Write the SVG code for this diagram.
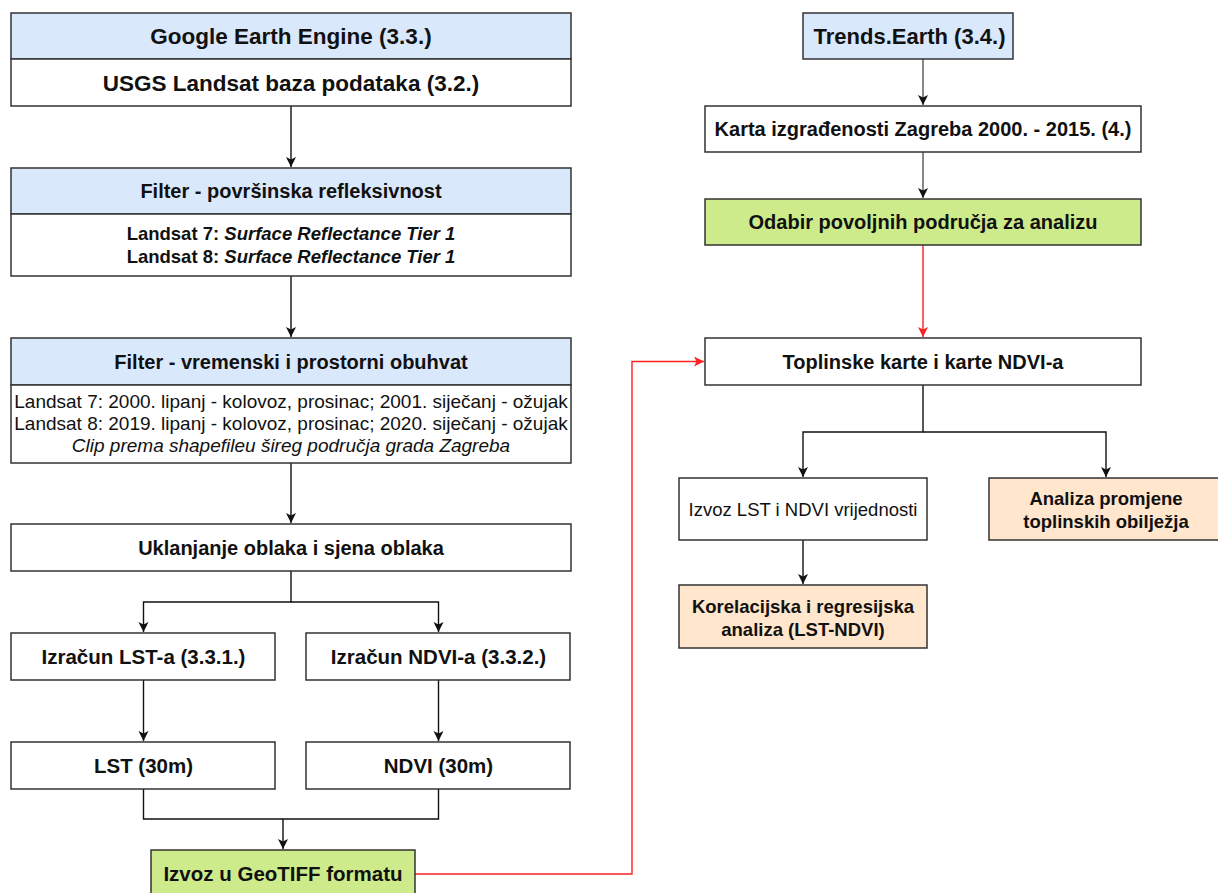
<svg xmlns="http://www.w3.org/2000/svg" width="1218" height="893" viewBox="0 0 1218 893">
<style>
text{font-family:"Liberation Sans",Arial,sans-serif;fill:#111;text-anchor:middle}
.b{font-weight:bold}
.box{stroke:#333;stroke-width:1.5}
.w{fill:#fff}
.bl{fill:#dae8fc}
.gr{fill:#cdeb8b}
.or{fill:#ffe6cc}
.c{fill:none;stroke:#111;stroke-width:1.4}
.g{fill:none;stroke:#555;stroke-width:1.4}
.r{fill:none;stroke:#ff2020;stroke-width:1.4}
</style>
<defs>
<marker id="ah" markerUnits="userSpaceOnUse" markerWidth="11" markerHeight="11" refX="10" refY="5" orient="auto"><path d="M0,0 L10,5 L0,10 L2.5,5 z" fill="#111"/></marker>
<marker id="ahr" markerUnits="userSpaceOnUse" markerWidth="11" markerHeight="11" refX="10" refY="5" orient="auto"><path d="M0,0 L10,5 L0,10 L2.5,5 z" fill="#ff2020"/></marker>
</defs>
<rect width="1218" height="893" fill="#fff"/>
<g id="connectors">
<path class="c" d="M291,106 V167" marker-end="url(#ah)"/>
<path class="c" d="M291,276 V337" marker-end="url(#ah)"/>
<path class="c" d="M291,463 V523" marker-end="url(#ah)"/>
<path class="c" d="M291,571 V602 H143.5 V632" marker-end="url(#ah)"/>
<path class="c" d="M291,602 H438.5 V632" marker-end="url(#ah)"/>
<path class="c" d="M143.5,680 V741" marker-end="url(#ah)"/>
<path class="c" d="M438.5,680 V741" marker-end="url(#ah)"/>
<path class="c" d="M143.5,789 V819 H438.5 V789"/>
<path class="c" d="M283,819 V849" marker-end="url(#ah)"/>
<path class="r" d="M415,874 H632 V361.5 H704" marker-end="url(#ahr)"/>
<path class="g" d="M923,59 V105" marker-end="url(#ah)"/>
<path class="g" d="M923,152 V198" marker-end="url(#ah)"/>
<path class="r" d="M923,245 V337" marker-end="url(#ahr)"/>
<path class="c" d="M923,385 V432 H803 V477" marker-end="url(#ah)"/>
<path class="c" d="M923,432 H1106 V477" marker-end="url(#ah)"/>
<path class="c" d="M803,540 V584" marker-end="url(#ah)"/>
</g>
<g id="gee">
<rect class="box bl" x="11" y="13" width="560" height="46"/>
<text class="b" x="291" y="44" font-size="22.5">Google Earth Engine (3.3.)</text>
</g>
<g id="usgs">
<rect class="box w" x="11" y="59" width="560" height="47"/>
<text class="b" x="291" y="90.5" font-size="22.5">USGS Landsat baza podataka (3.2.)</text>
</g>
<g id="filter1">
<rect class="box bl" x="11" y="168" width="560" height="46"/>
<text class="b" x="291" y="198" font-size="20">Filter - površinska refleksivnost</text>
<rect class="box w" x="11" y="214" width="560" height="62"/>
<text class="b" x="291" y="240" font-size="18.5">Landsat 7: <tspan font-style="italic">Surface Reflectance Tier 1</tspan></text>
<text class="b" x="291" y="263" font-size="18.5">Landsat 8: <tspan font-style="italic">Surface Reflectance Tier 1</tspan></text>
</g>
<g id="filter2">
<rect class="box bl" x="11" y="338" width="560" height="47"/>
<text class="b" x="291" y="368.5" font-size="20">Filter - vremenski i prostorni obuhvat</text>
<rect class="box w" x="11" y="385" width="560" height="78"/>
<text x="291" y="408" font-size="19">Landsat 7: 2000. lipanj - kolovoz, prosinac; 2001. siječanj - ožujak</text>
<text x="291" y="430" font-size="19">Landsat 8: 2019. lipanj - kolovoz, prosinac; 2020. siječanj - ožujak</text>
<text x="291" y="452" font-size="19" font-style="italic">Clip prema shapefileu šireg područja grada Zagreba</text>
</g>
<g id="uklanjanje">
<rect class="box w" x="11" y="524" width="560" height="47"/>
<text class="b" x="291" y="554.5" font-size="20">Uklanjanje oblaka i sjena oblaka</text>
</g>
<g id="izracun-lst">
<rect class="box w" x="11" y="633" width="264" height="47"/>
<text class="b" x="143.5" y="663.5" font-size="20.5">Izračun LST-a (3.3.1.)</text>
</g>
<g id="izracun-ndvi">
<rect class="box w" x="306" y="633" width="264" height="47"/>
<text class="b" x="438.5" y="663.5" font-size="20.5">Izračun NDVI-a (3.3.2.)</text>
</g>
<g id="lst">
<rect class="box w" x="11" y="742" width="264" height="47"/>
<text class="b" x="143.5" y="772.5" font-size="20.5">LST (30m)</text>
</g>
<g id="ndvi">
<rect class="box w" x="306" y="742" width="264" height="47"/>
<text class="b" x="438.5" y="772.5" font-size="20.5">NDVI (30m)</text>
</g>
<g id="geotiff">
<rect class="box gr" x="151" y="850" width="264" height="48"/>
<text class="b" x="283" y="881" font-size="20.5">Izvoz u GeoTIFF formatu</text>
</g>
<g id="trends">
<rect class="box bl" x="803" y="13" width="210" height="46"/>
<text class="b" x="909.5" y="44" font-size="22">Trends.Earth (3.4.)</text>
</g>
<g id="karta">
<rect class="box w" x="705" y="106" width="436" height="46"/>
<text class="b" x="923" y="136" font-size="20">Karta izgrađenosti Zagreba 2000. - 2015. (4.)</text>
</g>
<g id="odabir">
<rect class="box gr" x="705" y="199" width="436" height="46"/>
<text class="b" x="923" y="229" font-size="20">Odabir povoljnih područja za analizu</text>
</g>
<g id="toplinske">
<rect class="box w" x="705" y="338" width="436" height="47"/>
<text class="b" x="923" y="368.5" font-size="20">Toplinske karte i karte NDVI-a</text>
</g>
<g id="izvoz-lst-ndvi">
<rect class="box w" x="679" y="478" width="248" height="62"/>
<text x="803" y="515.5" font-size="18.5">Izvoz LST i NDVI vrijednosti</text>
</g>
<g id="analiza">
<rect class="box or" x="989" y="478" width="234" height="62"/>
<text class="b" x="1106" y="505" font-size="18.5">Analiza promjene</text>
<text class="b" x="1106" y="528" font-size="18.5">toplinskih obilježja</text>
</g>
<g id="korelacijska">
<rect class="box or" x="679" y="585" width="248" height="63"/>
<text class="b" x="803" y="612.5" font-size="18.5">Korelacijska i regresijska</text>
<text class="b" x="803" y="635.5" font-size="18.5">analiza (LST-NDVI)</text>
</g>
</svg>
